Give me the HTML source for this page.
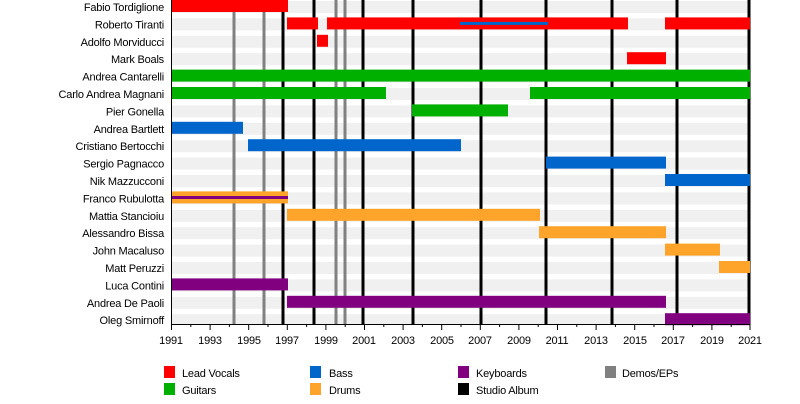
<!DOCTYPE html>
<html><head><meta charset="utf-8"><style>
html,body{margin:0;padding:0;background:#fff;}
svg{display:block;font-family:"Liberation Sans",sans-serif;}
text{font-size:11px;fill:#000;letter-spacing:-0.2px;}
</style></head><body>
<svg width="800" height="404" viewBox="0 0 800 404">
<g fill="#f0f0f0">
<rect x="171" y="1" width="579" height="12"/><rect x="171" y="18.4" width="579" height="12"/><rect x="171" y="35.8" width="579" height="12"/><rect x="171" y="53.2" width="579" height="12"/><rect x="171" y="70.6" width="579" height="12"/><rect x="171" y="88" width="579" height="12"/><rect x="171" y="105.4" width="579" height="12"/><rect x="171" y="122.8" width="579" height="12"/><rect x="171" y="140.2" width="579" height="12"/><rect x="171" y="157.6" width="579" height="12"/><rect x="171" y="175" width="579" height="12"/><rect x="171" y="192.4" width="579" height="12"/><rect x="171" y="209.8" width="579" height="12"/><rect x="171" y="227.2" width="579" height="12"/><rect x="171" y="244.6" width="579" height="12"/><rect x="171" y="262" width="579" height="12"/><rect x="171" y="279.4" width="579" height="12"/><rect x="171" y="296.8" width="579" height="12"/><rect x="171" y="314.2" width="579" height="10"/>
</g>
<g stroke="#808080" stroke-width="3">
<line x1="234" y1="0" x2="234" y2="324"/><line x1="264" y1="0" x2="264" y2="324"/><line x1="336" y1="0" x2="336" y2="324"/><line x1="345" y1="0" x2="345" y2="324"/>
</g>
<g stroke="#000" stroke-width="3">
<line x1="283" y1="0" x2="283" y2="324"/><line x1="314" y1="0" x2="314" y2="324"/><line x1="363" y1="0" x2="363" y2="324"/><line x1="413" y1="0" x2="413" y2="324"/><line x1="481" y1="0" x2="481" y2="324"/><line x1="546" y1="0" x2="546" y2="324"/><line x1="612" y1="0" x2="612" y2="324"/><line x1="677" y1="0" x2="677" y2="324"/><line x1="749" y1="0" x2="749" y2="324"/>
</g>
<g fill="#ff0000">
<rect x="171" y="0" width="117" height="12"/>
<rect x="287" y="17.4" width="31" height="12"/><rect x="327" y="17.4" width="301" height="12"/><rect x="665" y="17.4" width="85" height="12"/>
<rect x="317" y="34.8" width="11" height="12"/>
<rect x="627" y="52.2" width="39" height="12"/>
</g>
<rect x="460" y="21.9" width="88" height="3" fill="#0066cc"/>
<g fill="#00b000">
<rect x="171" y="69.6" width="579" height="12"/>
<rect x="171" y="87" width="215" height="12"/><rect x="530" y="87" width="220" height="12"/>
<rect x="412" y="104.4" width="96" height="12"/>
</g>
<g fill="#0066cc">
<rect x="171" y="121.8" width="72" height="12"/>
<rect x="248" y="139.2" width="213" height="12"/>
<rect x="546" y="156.6" width="120" height="12"/>
<rect x="665" y="174" width="85" height="12"/>
</g>
<g fill="#ffa42a">
<rect x="171" y="191.4" width="117" height="12"/>
<rect x="287" y="208.8" width="253" height="12"/>
<rect x="539" y="226.2" width="127" height="12"/>
<rect x="665" y="243.6" width="55" height="12"/>
<rect x="719" y="261" width="31" height="12"/>
</g>
<rect x="171" y="196" width="117" height="3" fill="#800080"/>
<g fill="#800080">
<rect x="171" y="278.4" width="117" height="12"/>
<rect x="287" y="295.8" width="379" height="12"/>
<rect x="665" y="313.2" width="85" height="12"/>
</g>
<g text-anchor="end">
<text x="164" y="11">Fabio Tordiglione</text><text x="164" y="28.4">Roberto Tiranti</text><text x="164" y="45.8">Adolfo Morviducci</text><text x="164" y="63.2">Mark Boals</text><text x="164" y="80.6">Andrea Cantarelli</text><text x="164" y="98">Carlo Andrea Magnani</text><text x="164" y="115.4">Pier Gonella</text><text x="164" y="132.8">Andrea Bartlett</text><text x="164" y="150.2">Cristiano Bertocchi</text><text x="164" y="167.6">Sergio Pagnacco</text><text x="164" y="185">Nik Mazzucconi</text><text x="164" y="202.4">Franco Rubulotta</text><text x="164" y="219.8">Mattia Stancioiu</text><text x="164" y="237.2">Alessandro Bissa</text><text x="164" y="254.6">John Macaluso</text><text x="164" y="272">Matt Peruzzi</text><text x="164" y="289.4">Luca Contini</text><text x="164" y="306.8">Andrea De Paoli</text><text x="164" y="324.2">Oleg Smirnoff</text>
</g>
<g stroke="#000" stroke-width="1">
<line x1="171" y1="324.5" x2="750" y2="324.5"/>
<line x1="171.5" y1="0" x2="171.5" y2="330"/>
<line x1="190.8" y1="324" x2="190.8" y2="327"/><line x1="210.1" y1="324" x2="210.1" y2="330"/><line x1="229.4" y1="324" x2="229.4" y2="327"/><line x1="248.7" y1="324" x2="248.7" y2="330"/><line x1="268" y1="324" x2="268" y2="327"/><line x1="287.3" y1="324" x2="287.3" y2="330"/><line x1="306.6" y1="324" x2="306.6" y2="327"/><line x1="325.9" y1="324" x2="325.9" y2="330"/><line x1="345.2" y1="324" x2="345.2" y2="327"/><line x1="364.5" y1="324" x2="364.5" y2="330"/><line x1="383.8" y1="324" x2="383.8" y2="327"/><line x1="403.1" y1="324" x2="403.1" y2="330"/><line x1="422.4" y1="324" x2="422.4" y2="327"/><line x1="441.7" y1="324" x2="441.7" y2="330"/><line x1="461" y1="324" x2="461" y2="327"/><line x1="480.3" y1="324" x2="480.3" y2="330"/><line x1="499.6" y1="324" x2="499.6" y2="327"/><line x1="518.9" y1="324" x2="518.9" y2="330"/><line x1="538.2" y1="324" x2="538.2" y2="327"/><line x1="557.5" y1="324" x2="557.5" y2="330"/><line x1="576.8" y1="324" x2="576.8" y2="327"/><line x1="596.1" y1="324" x2="596.1" y2="330"/><line x1="615.4" y1="324" x2="615.4" y2="327"/><line x1="634.7" y1="324" x2="634.7" y2="330"/><line x1="654" y1="324" x2="654" y2="327"/><line x1="673.3" y1="324" x2="673.3" y2="330"/><line x1="692.6" y1="324" x2="692.6" y2="327"/><line x1="711.9" y1="324" x2="711.9" y2="330"/><line x1="731.2" y1="324" x2="731.2" y2="327"/><line x1="750" y1="324" x2="750" y2="330"/>
</g>
<g text-anchor="middle">
<text x="171" y="344">1991</text><text x="210" y="344">1993</text><text x="249" y="344">1995</text><text x="287" y="344">1997</text><text x="326" y="344">1999</text><text x="364" y="344">2001</text><text x="403" y="344">2003</text><text x="442" y="344">2005</text><text x="480" y="344">2007</text><text x="519" y="344">2009</text><text x="557" y="344">2011</text><text x="596" y="344">2013</text><text x="635" y="344">2015</text><text x="673" y="344">2017</text><text x="712" y="344">2019</text><text x="750" y="344">2021</text>
</g>
<rect x="164" y="366" width="11" height="12" fill="#ff0000"/><text x="182" y="377">Lead Vocals</text>
<rect x="164" y="383" width="11" height="12" fill="#00b000"/><text x="182" y="394">Guitars</text>
<rect x="310" y="366" width="11" height="12" fill="#0066cc"/><text x="329" y="377">Bass</text>
<rect x="310" y="383" width="11" height="12" fill="#ffa42a"/><text x="329" y="394">Drums</text>
<rect x="458" y="366" width="11" height="12" fill="#800080"/><text x="476" y="377">Keyboards</text>
<rect x="458" y="383" width="11" height="12" fill="#000"/><text x="476" y="394">Studio Album</text>
<rect x="605" y="366" width="11" height="12" fill="#808080"/><text x="622" y="377">Demos/EPs</text>
</svg>
</body></html>
